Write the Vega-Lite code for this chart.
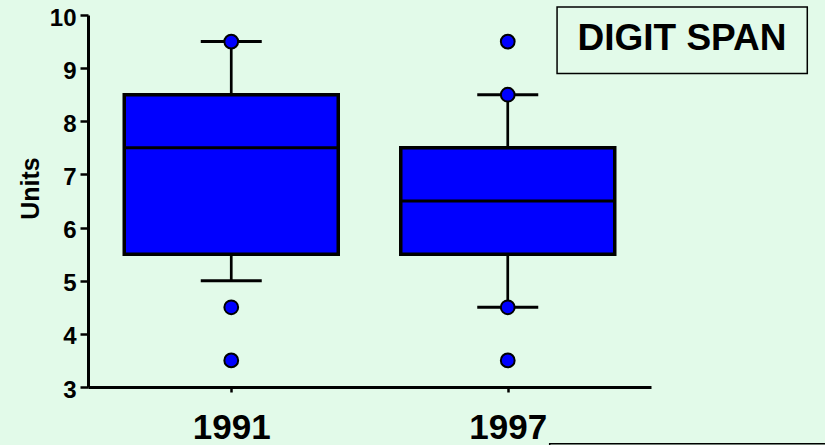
{
  "$schema": "https://vega.github.io/schema/vega-lite/v6.json",
  "width": 563,
  "height": 372,
  "autosize": "none",
  "padding": {"left": 88, "top": 15, "right": 174, "bottom": 58},
  "background": "#e2fae9",
  "config": {
    "view": {"stroke": null},
    "font": "Liberation Sans",
    "axis": {
      "domainColor": "black",
      "domainWidth": 3,
      "tickColor": "black",
      "tickWidth": 2.5,
      "grid": false,
      "labelFont": "Liberation Sans",
      "labelFontWeight": "bold",
      "labelColor": "black",
      "titleFont": "Liberation Sans",
      "titleFontWeight": "bold",
      "titleColor": "black"
    }
  },
  "datasets": {
    "boxes": [
      {"year": 1991, "lo": 5.0, "q1": 5.5, "median": 7.5, "q3": 8.5, "hi": 9.5},
      {"year": 1997, "lo": 4.5, "q1": 5.5, "median": 6.5, "q3": 7.5, "hi": 8.5}
    ],
    "points": [
      {"year": 1991, "value": 9.5},
      {"year": 1991, "value": 4.5},
      {"year": 1991, "value": 3.5},
      {"year": 1997, "value": 9.5},
      {"year": 1997, "value": 8.5},
      {"year": 1997, "value": 4.5},
      {"year": 1997, "value": 3.5}
    ],
    "labels": [
      {"label": "DIGIT SPAN"}
    ]
  },
  "layer": [
    {
      "data": {"name": "boxes"},
      "mark": {"type": "rule", "color": "black", "strokeWidth": 2.7},
      "encoding": {
        "x": {
          "field": "year",
          "type": "quantitative",
          "scale": {"domain": [1988, 2000], "nice": false, "zero": false},
          "axis": {
            "title": null,
            "values": [1991, 1997],
            "format": "d",
            "tickSize": 5,
            "labelFontSize": 35,
            "labelPadding": 18
          }
        },
        "y": {
          "field": "lo",
          "type": "quantitative",
          "scale": {"domain": [3, 10], "nice": false, "zero": false},
          "axis": {
            "title": "Units",
            "titleFontSize": 25,
            "titlePadding": 6,
            "titleY": 173,
            "values": [3, 3.5, 4, 4.5, 5, 5.5, 6, 6.5, 7, 7.5, 8, 8.5, 9, 9.5, 10],
            "format": "d",
            "labelExpr": "datum.value % 1 === 0 ? datum.label : ''",
            "tickSize": {"condition": {"test": "datum.value % 1 === 0", "value": 8}, "value": 4},
            "labelFontSize": 24,
            "labelPadding": 4,
            "labelOffset": 3
          }
        },
        "y2": {"field": "hi"}
      }
    },
    {
      "data": {"name": "boxes"},
      "mark": {"type": "tick", "orient": "horizontal", "color": "black", "size": 61, "thickness": 3, "opacity": 1},
      "encoding": {
        "x": {"field": "year", "type": "quantitative"},
        "y": {"field": "lo", "type": "quantitative"}
      }
    },
    {
      "data": {"name": "boxes"},
      "mark": {"type": "tick", "orient": "horizontal", "color": "black", "size": 61, "thickness": 3, "opacity": 1},
      "encoding": {
        "x": {"field": "year", "type": "quantitative"},
        "y": {"field": "hi", "type": "quantitative"}
      }
    },
    {
      "data": {"name": "boxes"},
      "mark": {"type": "bar", "orient": "vertical", "size": 214, "fill": "#0000ff", "stroke": "black", "strokeWidth": 3.5},
      "encoding": {
        "x": {"field": "year", "type": "quantitative"},
        "y": {"field": "q1", "type": "quantitative"},
        "y2": {"field": "q3"}
      }
    },
    {
      "data": {"name": "boxes"},
      "mark": {"type": "tick", "orient": "horizontal", "color": "black", "size": 214, "thickness": 3, "opacity": 1},
      "encoding": {
        "x": {"field": "year", "type": "quantitative"},
        "y": {"field": "median", "type": "quantitative"}
      }
    },
    {
      "data": {"name": "points"},
      "mark": {"type": "point", "shape": "circle", "filled": true, "fill": "#0000ff", "stroke": "black", "strokeWidth": 2, "size": 190, "opacity": 1},
      "encoding": {
        "x": {"field": "year", "type": "quantitative"},
        "y": {"field": "value", "type": "quantitative"}
      }
    },
    {
      "data": {"name": "labels"},
      "mark": {"type": "rect", "filled": false, "fill": "transparent", "stroke": "black", "strokeWidth": 1.5, "clip": false},
      "encoding": {
        "x": {"datum": 1998.07, "type": "quantitative"},
        "x2": {"datum": 2003.5},
        "y": {"datum": 10.15, "type": "quantitative"},
        "y2": {"datum": 8.9}
      }
    },
    {
      "data": {"name": "labels"},
      "mark": {"type": "text", "font": "Liberation Sans", "fontWeight": "bold", "fontSize": 37, "color": "black", "align": "center", "baseline": "middle"},
      "encoding": {
        "text": {"field": "label"},
        "x": {"datum": 2000.78, "type": "quantitative"},
        "y": {"datum": 9.55, "type": "quantitative"}
      }
    },
    {
      "data": {"name": "labels"},
      "mark": {"type": "rect", "filled": false, "fill": "transparent", "stroke": "black", "strokeWidth": 1.5, "clip": false},
      "encoding": {
        "x": {"datum": 1997.91, "type": "quantitative"},
        "x2": {"datum": 2006},
        "y": {"datum": 1.93, "type": "quantitative"},
        "y2": {"datum": 0}
      }
    }
  ]
}
